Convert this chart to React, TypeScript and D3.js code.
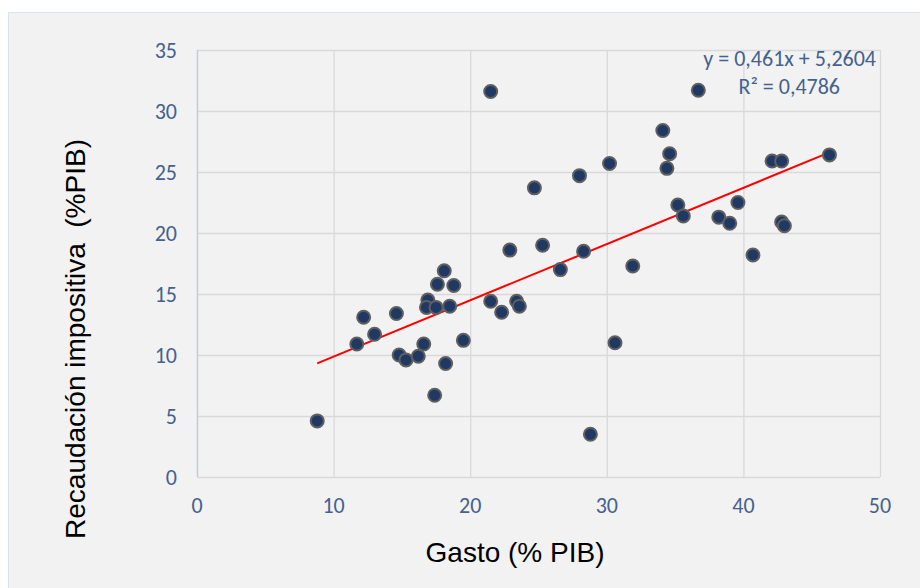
import React, { useRef, useEffect } from 'react';
import * as d3 from 'd3';

// Gasto (% PIB) vs Recaudación impositiva (% PIB)
const gasto = [
  8.8, 11.7, 12.2, 13.0, 14.6, 14.8, 15.3, 16.9, 16.2, 16.6,
  16.8, 17.5, 17.4, 17.6, 18.1, 18.2, 18.5, 18.8, 19.5, 21.5,
  21.5, 22.3, 22.9, 23.4, 23.6, 24.7, 25.3, 26.6, 28.0, 28.3,
  28.8, 30.2, 30.6, 31.9, 34.1, 34.4, 34.6, 35.2, 35.6, 36.7,
  38.2, 39.0, 39.6, 40.7, 42.1, 42.8, 42.8, 43.0, 46.3,
];
const recaudacion = [
  4.6, 10.9, 13.1, 11.7, 13.4, 10.0, 9.6, 14.5, 9.9, 10.9,
  13.9, 13.9, 6.7, 15.8, 16.9, 9.3, 14.0, 15.7, 11.2, 31.6,
  14.4, 13.5, 18.6, 14.4, 14.0, 23.7, 19.0, 17.0, 24.7, 18.5,
  3.5, 25.7, 11.0, 17.3, 28.4, 25.3, 26.5, 22.3, 21.4, 31.7,
  21.3, 20.8, 22.5, 18.2, 25.9, 25.9, 20.9, 20.6, 26.4,
];
const xTicks = [0, 10, 20, 30, 40, 50];
const yTicks = [0, 5, 10, 15, 20, 25, 30, 35];
const slope = 0.461;
const intercept = 5.2604;
const eqLabel = 'y = 0,461x + 5,2604';
const r2Label = 'R² = 0,4786';

const App = () => {
  const ref = useRef<SVGSVGElement>(null);

  useEffect(() => {
    const svg = d3.select(ref.current);
    svg.selectAll('*').remove();

    const width = 920;
    const height = 588;
    const margin = { top: 50, right: 40, bottom: 111, left: 197 };
    const tickFont = "Carlito, 'Liberation Sans Narrow', 'DejaVu Sans Condensed', sans-serif";
    const titleFont = "'Liberation Sans', Arial, sans-serif";
    const tickColor = '#44618f';

    // chart area
    svg.append('rect').attr('x', 0).attr('y', 0).attr('width', width).attr('height', height).attr('fill', '#ffffff');
    svg.append('rect').attr('x', 8.5).attr('y', 12.5).attr('width', width).attr('height', height)
      .attr('fill', '#f2f2f2').attr('stroke', '#d6e3f2').attr('stroke-width', 1);

    const x = d3.scaleLinear().domain([0, 50]).range([margin.left, width - margin.right]);
    const y = d3.scaleLinear().domain([0, 35]).range([height - margin.bottom, margin.top]);

    // grid
    const g = svg.append('g');
    g.selectAll('line.gx').data(xTicks).join('line')
      .attr('x1', d => x(d) + 0.5).attr('x2', d => x(d) + 0.5)
      .attr('y1', y(35)).attr('y2', y(0))
      .attr('stroke', '#d9d9d9').attr('stroke-width', 1.3);
    g.selectAll('line.gy').data(yTicks).join('line')
      .attr('x1', x(0)).attr('x2', x(50))
      .attr('y1', d => y(d) + 0.5).attr('y2', d => y(d) + 0.5)
      .attr('stroke', '#d9d9d9').attr('stroke-width', 1.3);
    // left axis line
    g.append('line').attr('x1', x(0) + 0.5).attr('x2', x(0) + 0.5).attr('y1', y(35)).attr('y2', y(0))
      .attr('stroke', '#b8cce4').attr('stroke-width', 1.3);

    // tick labels
    svg.append('g').selectAll('text').data(xTicks).join('text')
      .attr('x', d => x(d)).attr('y', y(0) + 36)
      .attr('text-anchor', 'middle').attr('font-family', tickFont).attr('font-size', 22)
      .attr('fill', tickColor).text(d => d);
    svg.append('g').selectAll('text').data(yTicks).join('text')
      .attr('x', x(0) - 20).attr('y', d => y(d) + 8)
      .attr('text-anchor', 'end').attr('font-family', tickFont).attr('font-size', 22)
      .attr('fill', tickColor).text(d => d);

    // trend line
    const xr = d3.extent(gasto) as [number, number];
    svg.append('line')
      .attr('x1', x(xr[0])).attr('y1', y(slope * xr[0] + intercept))
      .attr('x2', x(xr[1])).attr('y2', y(slope * xr[1] + intercept))
      .attr('stroke', '#ff0000').attr('stroke-width', 2);

    // points
    svg.append('g').selectAll('circle').data(gasto).join('circle')
      .attr('cx', d => x(d)).attr('cy', (d, i) => y(recaudacion[i]))
      .attr('r', 6.5)
      .attr('fill', '#1f3864').attr('stroke', '#5f5f5f').attr('stroke-width', 2);

    // equation
    svg.append('text').attr('x', 876).attr('y', 66).attr('text-anchor', 'end')
      .attr('font-family', tickFont).attr('font-size', 22).attr('fill', tickColor).text(eqLabel);
    svg.append('text').attr('x', 840).attr('y', 94).attr('text-anchor', 'end')
      .attr('font-family', tickFont).attr('font-size', 22).attr('fill', tickColor).text(r2Label);

    // axis titles
    svg.append('text').attr('x', 515).attr('y', 562)
      .attr('text-anchor', 'middle').attr('font-family', titleFont)
      .attr('font-size', 28).attr('fill', '#000').text('Gasto (% PIB)');
    svg.append('text').attr('transform', `translate(85,${339}) rotate(-90)`)
      .attr('text-anchor', 'middle').attr('font-family', titleFont)
      .attr('font-size', 28).attr('fill', '#000').attr('xml:space', 'preserve')
      .text('Recaudación impositiva  (%PIB)');
  }, []);

  return <svg ref={ref} width={920} height={588} style={{ position: 'absolute', left: 0, top: 0 }} />;
};

export default App;
